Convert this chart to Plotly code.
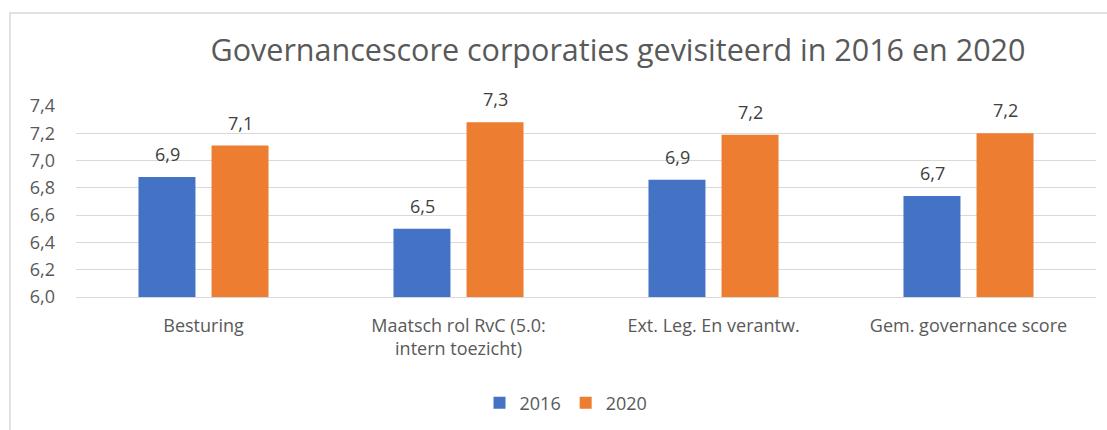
import plotly.graph_objects as go

categories = ["Besturing", "Maatsch rol RvC (5.0:<br>intern toezicht)", "Ext. Leg. En verantw.", "Gem. governance score"]
series_names = ["2016", "2020"]
values_2016 = [6.88, 6.50, 6.86, 6.74]
values_2020 = [7.11, 7.28, 7.19, 7.20]
colors = ["#4472C4", "#ED7D31"]
y_ticks = [6.0, 6.2, 6.4, 6.6, 6.8, 7.0, 7.2, 7.4]

FONT = "Open Sans"
TXT = "#595959"

fig = go.Figure()
for name, vals, col in zip(series_names, [values_2016, values_2020], colors):
    fig.add_trace(go.Bar(x=categories, y=vals, name=name, marker=dict(color=col, line=dict(width=0))))

annotations = []
for shift, vals in zip([-36.5, 36.5], [values_2016, values_2020]):
    for c, v in zip(categories, vals):
        annotations.append(dict(x=c, y=v, xref="x", yref="y", xshift=shift, yshift=9,
                                text=f"{v:.1f}".replace(".", ","), showarrow=False,
                                yanchor="bottom", font=dict(family=FONT, size=18, color="#404040")))

fig.update_layout(
    width=1107, height=430,
    margin=dict(l=76, r=11, t=106, b=133, autoexpand=False),
    paper_bgcolor="white", plot_bgcolor="white",
    separators=",.",
    barmode="group", bargap=0.427, bargroupgap=0.22,
    title=dict(text="Governancescore corporaties gevisiteerd in 2016 en 2020",
               x=618 / 1107, xanchor="center", y=1 - 50 / 430, yanchor="middle",
               font=dict(family=FONT, size=30.5, color=TXT)),
    font=dict(family=FONT, size=18, color=TXT),
    legend=dict(orientation="h", x=(566 - 76) / 1020, xanchor="center", y=(297 - 403) / 191,
                yanchor="middle", font=dict(family=FONT, size=18, color=TXT), itemwidth=30,
                traceorder="normal"),
    annotations=annotations,
    shapes=[dict(type="rect", xref="paper", yref="paper", x0=(10 - 76) / 1020, x1=1.05,
                 y0=-0.8, y1=(297 - 13) / 191, line=dict(color="#d9d9d9", width=1.5),
                 fillcolor="rgba(0,0,0,0)", layer="below")],
)
fig.update_yaxes(range=[6.0, 7.4], tickvals=y_ticks, tickformat=".1f", showgrid=True,
                 gridcolor="#d9d9d9", gridwidth=1, zeroline=False, showline=False,
                 ticks="", ticklabelstandoff=20, automargin=False,
                 tickfont=dict(family=FONT, size=18, color=TXT))
fig.update_xaxes(showline=True, linecolor="#d9d9d9", linewidth=1, ticks="", tickangle=0,
                 ticklabelstandoff=12, automargin=False,
                 tickfont=dict(family=FONT, size=18, color=TXT))

fig.write_html("out.html", config={"displayModeBar": False},
               post_script="document.body.style.margin='0';")
